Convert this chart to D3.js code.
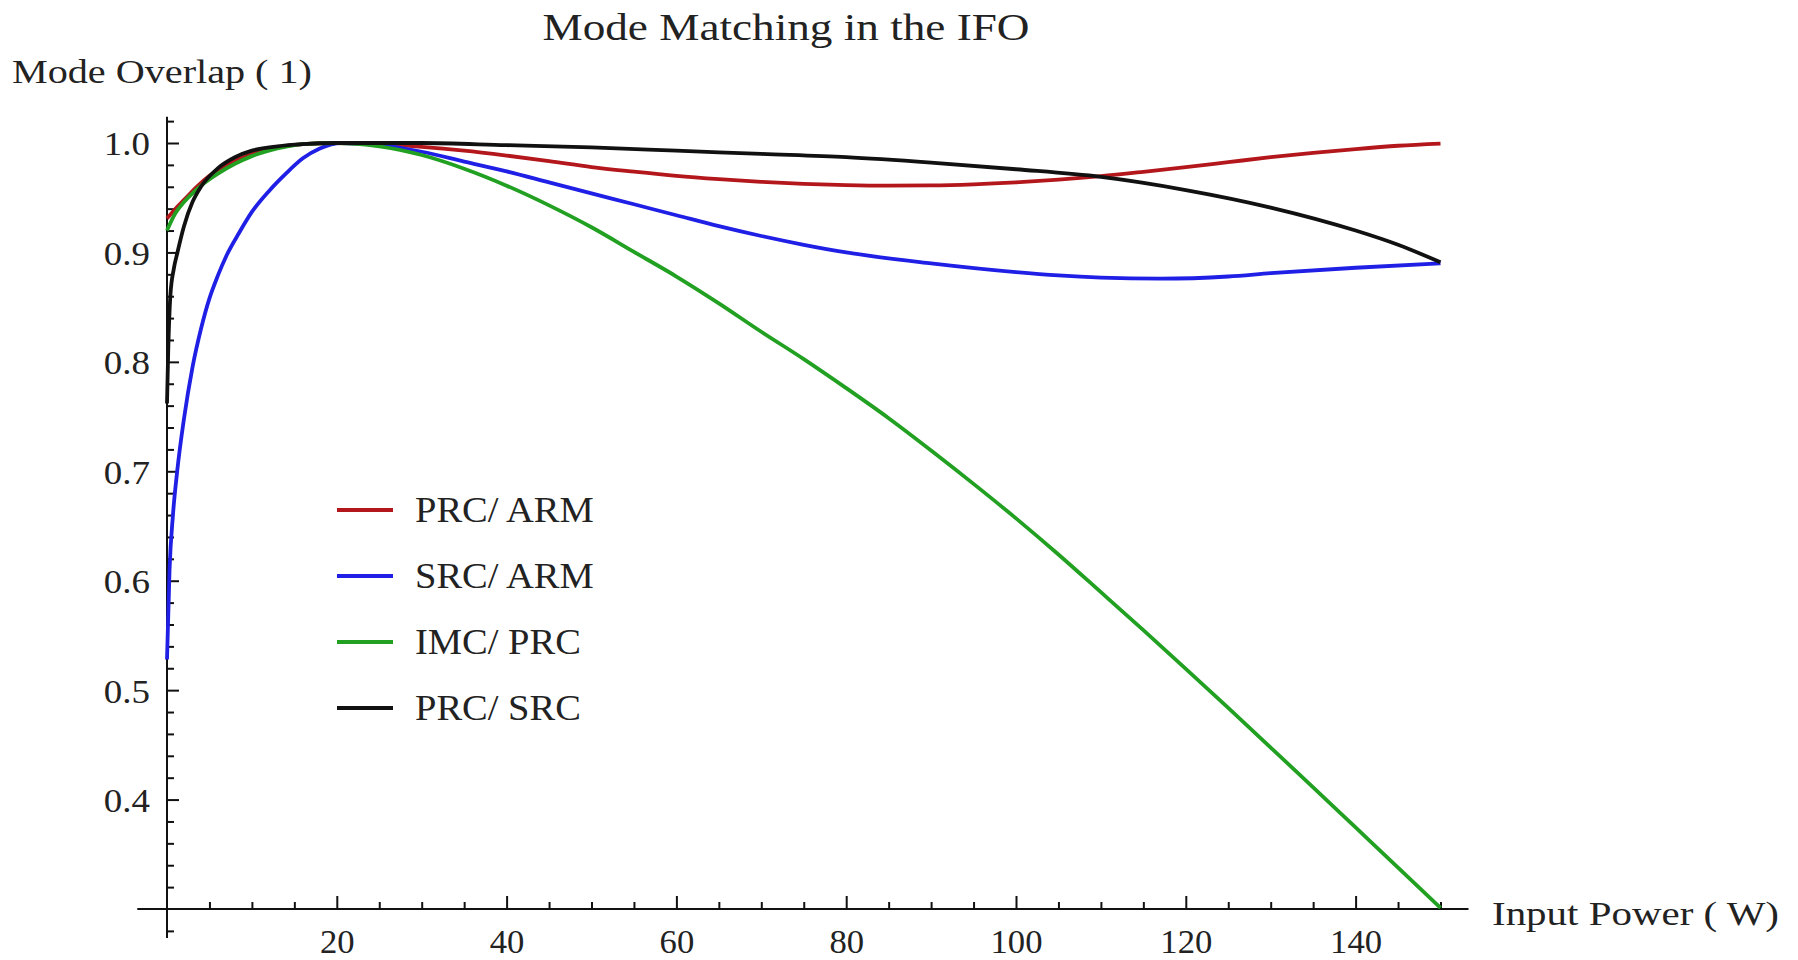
<!DOCTYPE html>
<html>
<head>
<meta charset="utf-8">
<script src="https://cdn.jsdelivr.net/npm/d3@7"></script>
<style>
  body { margin: 0; background: #fff; }
  text { font-family: "Liberation Serif", "Times New Roman", serif; fill: #222; }
</style>
</head>
<body>
<div id="chart"></div>
<script>
// svg area
var svgWidth = 1798;
var svgHeight = 960;

// series: [input power (W), mode overlap]
var prcArm = [[0, 0.931], [1, 0.94], [2, 0.948], [3.5, 0.96], [5, 0.97], [7, 0.98], [10, 0.99], [13, 0.996],
    [16, 0.999], [20, 1.0], [25, 0.999], [30, 0.9965], [35, 0.993], [40, 0.9885], [45, 0.9835], [50, 0.978],
    [55, 0.9738], [60, 0.970], [65, 0.967], [70, 0.9645], [75, 0.9627], [80, 0.9615], [85, 0.961],
    [90, 0.9612], [95, 0.9622], [100, 0.964], [105, 0.9665], [110, 0.9697], [115, 0.9737], [120, 0.978],
    [125, 0.9825], [130, 0.987], [135, 0.991], [140, 0.9945], [145, 0.9975], [150, 0.9995]];

var srcArm = [[0, 0.528], [0.3, 0.61], [0.7, 0.66], [1.2, 0.70], [2, 0.748], [3, 0.795], [4, 0.83],
    [5, 0.858], [6, 0.879], [7, 0.897], [8.5, 0.918], [10, 0.937], [12, 0.956], [14, 0.972], [16, 0.986],
    [18, 0.995], [20.5, 1.0], [25, 0.998], [30, 0.992], [35, 0.983], [40, 0.974], [45, 0.964], [50, 0.954],
    [55, 0.944], [60, 0.934], [65, 0.924], [70, 0.915], [75, 0.907], [80, 0.9], [90, 0.89], [100, 0.882],
    [105, 0.879], [110, 0.877], [117, 0.876], [125, 0.878], [130, 0.881], [140, 0.886], [150, 0.89]];

var imcPrc = [[0, 0.92], [1, 0.936], [2, 0.946], [3, 0.954], [4, 0.961], [6, 0.972], [8, 0.981], [10, 0.988],
    [13, 0.995], [16, 0.999], [20, 1.0], [25, 0.997], [30, 0.989], [35, 0.9765], [40, 0.961], [45, 0.943],
    [50, 0.923], [55, 0.9005], [60, 0.878], [65, 0.8535], [70, 0.8275], [75, 0.8025], [80, 0.776],
    [85, 0.7485], [90, 0.719], [95, 0.6885], [100, 0.657], [105, 0.624], [110, 0.5895], [115, 0.5548],
    [120, 0.5195], [125, 0.4838], [130, 0.4475], [135, 0.4112], [140, 0.3745], [145, 0.3378], [150, 0.301]];

var prcSrc = [[0, 0.762], [0.15, 0.812], [0.4, 0.861], [0.8, 0.885], [1.2, 0.899], [2, 0.924], [3, 0.946],
    [4, 0.96], [6, 0.977], [8, 0.987], [10, 0.993], [13, 0.997], [16, 0.999], [20, 1.0], [30, 1.0],
    [40, 0.998], [50, 0.996], [60, 0.993], [70, 0.99], [80, 0.987], [90, 0.982], [100, 0.976],
    [110, 0.969], [120, 0.957], [130, 0.941], [140, 0.92], [145, 0.907], [150, 0.891]];

var seriesNames = ['PRC/ ARM', 'SRC/ ARM', 'IMC/ PRC', 'PRC/ SRC'];
var seriesData = [prcArm, srcArm, imcPrc, prcSrc];
var seriesColors = ['#b3171c', '#1f1fe6', '#22a022', '#111111'];

// ticks
var xMajorTicks = [20, 40, 60, 80, 100, 120, 140];
var xMinorTicks = d3.range(5, 151, 5).filter(d => d % 20 !== 0);
var yMajorTicks = [0.4, 0.5, 0.6, 0.7, 0.8, 0.9, 1.0];
var yMinorTicks = d3.range(14, 52).map(d => d * 0.02).filter(d => Math.abs(d * 10 - Math.round(d * 10)) > 1e-6);

var titleText = 'Mode Matching in the IFO';
var yLabelText = 'Mode Overlap ( 1)';
var xLabelText = 'Input Power ( W)';

var svg = d3.select('#chart')
    .append('svg')
    .attr('width', svgWidth)
    .attr('height', svgHeight);

var xScale = d3.scaleLinear().domain([0, 150]).range([167, 1440.5]);
var yScale = d3.scaleLinear().domain([0.3, 1.0]).range([909, 143]);

// stretch text horizontally a bit, the source picture is wider than Times
function stretch(sel, factor) {
    sel.each(function () {
        var w = this.getComputedTextLength();
        d3.select(this)
            .attr('textLength', w * factor)
            .attr('lengthAdjust', 'spacingAndGlyphs');
    });
}

// axis lines
svg.append('line')
    .attr('x1', xScale(-3.5)).attr('x2', xScale(153.3))
    .attr('y1', yScale(0.3)).attr('y2', yScale(0.3))
    .attr('stroke', '#111').attr('stroke-width', 2);

svg.append('line')
    .attr('x1', xScale(0)).attr('x2', xScale(0))
    .attr('y1', yScale(0.2735)).attr('y2', yScale(1.024))
    .attr('stroke', '#111').attr('stroke-width', 2);

// x axis
var xMinor = svg.append('g')
    .attr('transform', `translate(0, ${yScale(0.3)})`)
    .call(d3.axisBottom(xScale).tickValues(xMinorTicks).tickSize(-7).tickFormat(''));

var xMajor = svg.append('g')
    .attr('transform', `translate(0, ${yScale(0.3)})`)
    .call(d3.axisBottom(xScale).tickValues(xMajorTicks).tickSize(-13).tickPadding(21).tickFormat(d3.format('d')));

// y axis
var yMinor = svg.append('g')
    .attr('transform', `translate(${xScale(0)}, 0)`)
    .call(d3.axisLeft(yScale).tickValues(yMinorTicks).tickSize(-7).tickFormat(''));

var yMajor = svg.append('g')
    .attr('transform', `translate(${xScale(0)}, 0)`)
    .call(d3.axisLeft(yScale).tickValues(yMajorTicks).tickSize(-12).tickPadding(17).tickFormat(d3.format('.1f')));

svg.selectAll('.domain').remove();
svg.selectAll('.tick line').attr('stroke', '#111').attr('stroke-width', 2);

xMajor.selectAll('text')
    .attr('font-size', 33)
    .attr('font-family', '"Liberation Serif", serif')
    .attr('fill', '#222');
yMajor.selectAll('text')
    .attr('font-size', 33)
    .attr('dy', '0.36em')
    .attr('font-family', '"Liberation Serif", serif')
    .attr('fill', '#222');
stretch(xMajor.selectAll('text'), 1.05);
stretch(yMajor.selectAll('text'), 1.12);

// curves
var line = d3.line()
    .x(d => xScale(d[0]))
    .y(d => yScale(d[1]))
    .curve(d3.curveMonotoneX);

svg.append('g')
    .selectAll('path')
    .data(seriesData)
    .enter()
    .append('path')
    .attr('d', d => line(d))
    .attr('fill', 'none')
    .attr('stroke', (d, i) => seriesColors[i])
    .attr('stroke-width', 3.8)
    .attr('stroke-linejoin', 'round');

// legend
var legend = svg.append('g')
    .attr('transform', 'translate(337, 510)');

var legendItems = legend.selectAll('g')
    .data(seriesNames)
    .enter()
    .append('g')
    .attr('transform', (d, i) => `translate(0, ${i * 66})`);

legendItems.append('line')
    .attr('x1', 0).attr('x2', 56)
    .attr('y1', 0).attr('y2', 0)
    .attr('stroke', (d, i) => seriesColors[i])
    .attr('stroke-width', 4);

var legendText = legendItems.append('text')
    .attr('x', 78)
    .attr('y', 12)
    .attr('font-size', 35)
    .text(d => d);
stretch(legendText, 1.1);

// title and axis labels
svg.append('text')
    .attr('x', 786)
    .attr('y', 40)
    .attr('text-anchor', 'middle')
    .attr('font-size', 37)
    .attr('textLength', 487)
    .attr('lengthAdjust', 'spacingAndGlyphs')
    .text(titleText);

svg.append('text')
    .attr('x', 12)
    .attr('y', 83)
    .attr('font-size', 34)
    .attr('textLength', 300)
    .attr('lengthAdjust', 'spacingAndGlyphs')
    .text(yLabelText);

svg.append('text')
    .attr('x', 1492)
    .attr('y', 925)
    .attr('font-size', 34)
    .attr('textLength', 287)
    .attr('lengthAdjust', 'spacingAndGlyphs')
    .text(xLabelText);
</script>
</body>
</html>
